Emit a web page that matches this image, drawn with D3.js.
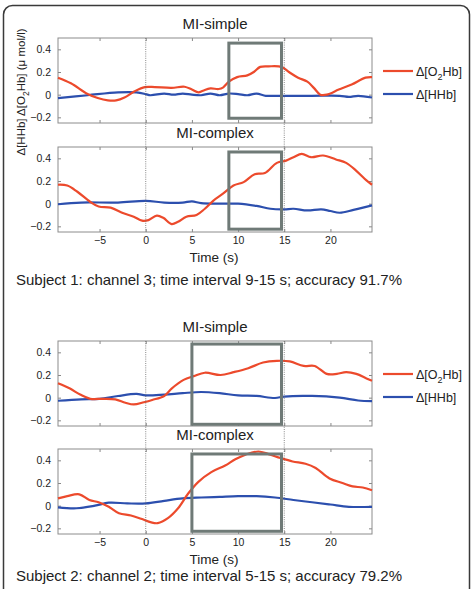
<!DOCTYPE html>
<html>
<head>
<meta charset="utf-8">
<script src="https://cdn.jsdelivr.net/npm/d3@7"></script>
<style>
    body { margin: 0; background: #fff; }
    text { font-family: "Liberation Sans", Arial, sans-serif; fill: #222; }
</style>
</head>
<body>
<div id="chart"></div>
<script>
const timeTicks = [-5, 0, 5, 10, 15, 20];
const valueTicks = [-0.2, 0, 0.2, 0.4];
const legendLabels = ['O2Hb', 'HHb'];

// subject 1, MI-simple (time s, value)
const s1SimpleO2Hb = [[-9.5, 0.15], [-8.1, 0.10], [-6.3, 0.005], [-5.2, -0.03], [-4.1, -0.05], [-3.2, -0.05], [-2.3, -0.025], [-1.2, 0.03], [-0.1, 0.067], [1.0, 0.067], [2.8, 0.06], [4.2, 0.07], [5.0, 0.045], [5.7, 0.02], [6.2, 0.035], [7.0, 0.055], [7.9, 0.05], [8.4, 0.065], [9.0, 0.115], [9.9, 0.155], [11.0, 0.17], [11.7, 0.2], [12.4, 0.245], [13.3, 0.25], [14.7, 0.245], [15.5, 0.2], [16.5, 0.15], [17.5, 0.115], [18.2, 0.06], [18.9, 0.0], [19.6, 0.0], [20.9, 0.045], [22.3, 0.09], [23.8, 0.15], [24.5, 0.155]];
const s1SimpleHHb = [[-9.5, -0.03], [-6.3, -0.005], [-3, 0.02], [-1, 0.02], [0, 0.005], [0.5, -0.005], [2, 0.01], [3, 0], [4, 0.01], [5, 0], [6, -0.005], [7, 0.01], [8, -0.005], [9, 0.01], [10, 0.005], [11, -0.005], [12, 0.01], [13, -0.01], [14, -0.01], [18, -0.01], [21, -0.01], [22, -0.02], [23, -0.01], [24.5, -0.025]];

// subject 1, MI-complex
const s1ComplexO2Hb = [[-9.5, 0.167], [-8.5, 0.16], [-7.4, 0.105], [-6.0, 0.015], [-5.1, -0.025], [-3.8, -0.035], [-2.4, -0.085], [-1.3, -0.115], [-0.4, -0.15], [0.3, -0.145], [1.2, -0.105], [1.9, -0.125], [2.8, -0.18], [3.5, -0.16], [4.4, -0.115], [5.5, -0.1], [6.4, -0.045], [7.3, 0.025], [8.4, 0.09], [9.5, 0.16], [10.6, 0.19], [11.8, 0.26], [12.9, 0.27], [14.2, 0.36], [15.2, 0.38], [16.0, 0.41], [16.9, 0.44], [17.9, 0.41], [19.2, 0.425], [20.6, 0.39], [21.7, 0.36], [22.8, 0.29], [23.9, 0.205], [24.5, 0.167]];
const s1ComplexHHb = [[-9.5, -0.005], [-7, 0.01], [-3, 0.01], [0, 0.025], [2, 0.01], [4, 0.01], [5, 0.02], [6, 0.005], [8, 0], [10, 0], [12, -0.02], [13.5, -0.045], [15, -0.05], [16, -0.045], [17.5, -0.06], [19, -0.05], [20, -0.065], [21, -0.08], [22.5, -0.055], [24.5, -0.015]];

// subject 2, MI-simple
const s2SimpleO2Hb = [[-9.5, 0.127], [-8.2, 0.08], [-7.1, 0.027], [-6.0, -0.01], [-4.6, -0.01], [-3.3, -0.015], [-2.2, -0.045], [-1.3, -0.06], [-0.2, -0.04], [0.7, -0.02], [2.0, 0.015], [2.8, 0.08], [4.1, 0.157], [5.2, 0.19], [6.4, 0.22], [8.1, 0.2], [9.5, 0.225], [11.1, 0.26], [12.7, 0.31], [14.2, 0.325], [15.6, 0.32], [17.1, 0.28], [18.3, 0.28], [19.6, 0.21], [20.7, 0.21], [21.7, 0.225], [22.8, 0.21], [23.9, 0.17], [24.5, 0.15]];
const s2SimpleHHb = [[-9.5, -0.027], [-7, -0.015], [-5, -0.01], [-3, 0.015], [-1, 0.033], [0, 0.02], [2, 0.027], [4, 0.04], [6, 0.05], [8, 0.04], [10, 0.02], [12, 0.015], [14, -0.003], [15, 0.01], [18, 0.015], [21, 0], [23, -0.025], [24.5, -0.03]];

// subject 2, MI-complex
const s2ComplexO2Hb = [[-9.5, 0.064], [-8.5, 0.084], [-7.2, 0.1], [-6.1, 0.05], [-5.1, 0.03], [-4.0, -0.01], [-2.9, -0.067], [-1.6, -0.087], [-0.5, -0.116], [0.6, -0.148], [1.3, -0.154], [2.4, -0.11], [3.5, -0.023], [4.6, 0.107], [5.7, 0.21], [7.1, 0.296], [8.6, 0.354], [9.7, 0.41], [10.8, 0.45], [12.2, 0.478], [13.3, 0.455], [14.6, 0.42], [15.9, 0.39], [17.3, 0.37], [18.4, 0.333], [19.9, 0.24], [21.3, 0.2], [22.4, 0.17], [23.5, 0.16], [24.5, 0.136]];
const s2ComplexHHb = [[-9.5, -0.015], [-7.5, -0.023], [-5.5, 0], [-4, 0.026], [-2, 0.02], [0, 0.02], [2, 0.043], [4, 0.064], [6, 0.072], [8, 0.078], [10, 0.084], [12, 0.084], [14, 0.072], [16, 0.05], [18, 0.03], [20, 0.01], [22, -0.01], [24.5, -0.01]];

// highlighted windows [t0, t1] and box value extents per panel
const s1Window = [9, 14.7];
const s2Window = [5, 14.7];
const boxExtents = [[-0.208, 0.455], [-0.225, 0.456], [-0.235, 0.473], [-0.226, 0.456]];

const captions = [
    'Subject 1: channel 3; time interval 9-15 s; accuracy 91.7%',
    'Subject 2: channel 2; time interval 5-15 s; accuracy 79.2%'
];

const width = 473;
const height = 589;
const red = '#ec4a2c';
const blue = '#2c4fae';

const svg = d3.select('#chart')
    .append('svg')
    .attr('width', width)
    .attr('height', height);

// outer frame, bottom edge runs off the picture
svg.append('rect')
    .attr('x', 3.5)
    .attr('y', 5.5)
    .attr('width', 466)
    .attr('height', 620)
    .attr('rx', 9)
    .attr('fill', 'none')
    .attr('stroke', '#3a3a3a')
    .attr('stroke-width', 1.5);

const xScale = d3.scaleLinear()
    .domain([-9.5, 24.5])
    .range([58, 372]);

const panels = [
    {top: 38, title: 'MI-simple', o2: s1SimpleO2Hb, hh: s1SimpleHHb, win: s1Window, box: boxExtents[0], legend: true, xLabels: false},
    {top: 147, title: 'MI-complex', o2: s1ComplexO2Hb, hh: s1ComplexHHb, win: s1Window, box: boxExtents[1], legend: false, xLabels: true},
    {top: 341, title: 'MI-simple', o2: s2SimpleO2Hb, hh: s2SimpleHHb, win: s2Window, box: boxExtents[2], legend: true, xLabels: false},
    {top: 449, title: 'MI-complex', o2: s2ComplexO2Hb, hh: s2ComplexHHb, win: s2Window, box: boxExtents[3], legend: false, xLabels: true}
];
const panelHeight = 85;

panels.forEach(p => {
    const yScale = d3.scaleLinear()
        .domain([-0.25, 0.5])
        .range([p.top + panelHeight, p.top]);

    const g = svg.append('g');

    g.append('text')
        .attr('x', 215)
        .attr('y', p.top - 9)
        .attr('text-anchor', 'middle')
        .attr('font-size', 15)
        .text(p.title);

    // inward ticks on all sides, MATLAB style
    g.append('g')
        .attr('transform', 'translate(0,' + (p.top + panelHeight) + ')')
        .call(d3.axisBottom(xScale).tickValues(timeTicks).tickSize(-3)
            .tickFormat(p.xLabels ? d3.format('d') : ''))
        .call(a => a.select('.domain').remove())
        .call(a => a.selectAll('line').attr('stroke', '#888'))
        .call(a => a.selectAll('text').attr('font-size', 10.5).attr('dy', '0.9em').attr('fill', '#222').attr('font-family', 'Liberation Sans, Arial'));
    g.append('g')
        .attr('transform', 'translate(0,' + p.top + ')')
        .call(d3.axisTop(xScale).tickValues(timeTicks).tickSize(-3).tickFormat(''))
        .call(a => a.select('.domain').remove())
        .call(a => a.selectAll('line').attr('stroke', '#888'));
    g.append('g')
        .attr('transform', 'translate(58,0)')
        .call(d3.axisLeft(yScale).tickValues(valueTicks).tickSize(-3).tickPadding(7)
            .tickFormat(d => d === 0 ? '0' : d3.format('.1f')(d)))
        .call(a => a.select('.domain').remove())
        .call(a => a.selectAll('line').attr('stroke', '#888'))
        .call(a => a.selectAll('text').attr('font-size', 10.5).attr('fill', '#222').attr('font-family', 'Liberation Sans, Arial'));
    g.append('g')
        .attr('transform', 'translate(372,0)')
        .call(d3.axisRight(yScale).tickValues(valueTicks).tickSize(-3).tickFormat(''))
        .call(a => a.select('.domain').remove())
        .call(a => a.selectAll('line').attr('stroke', '#888'));

    g.append('rect')
        .attr('x', xScale.range()[0])
        .attr('y', p.top)
        .attr('width', xScale.range()[1] - xScale.range()[0])
        .attr('height', panelHeight)
        .attr('fill', 'none')
        .attr('stroke', '#8c8c8c')
        .attr('stroke-width', 1);

    const line = d3.line()
        .x(d => xScale(d[0]))
        .y(d => yScale(d[1]))
        .curve(d3.curveCatmullRom.alpha(0.5));

    g.append('path')
        .datum(p.hh)
        .attr('d', line)
        .attr('fill', 'none')
        .attr('stroke', blue)
        .attr('stroke-width', 2.2);
    g.append('path')
        .datum(p.o2)
        .attr('d', line)
        .attr('fill', 'none')
        .attr('stroke', red)
        .attr('stroke-width', 2.2);

    g.append('rect')
        .attr('x', xScale(p.win[0]))
        .attr('y', yScale(p.box[1]))
        .attr('width', xScale(p.win[1]) - xScale(p.win[0]))
        .attr('height', yScale(p.box[0]) - yScale(p.box[1]))
        .attr('fill', 'none')
        .attr('stroke', '#6f7a77')
        .attr('stroke-width', 3);

    if (p.xLabels) {
        g.append('text')
            .attr('x', 214)
            .attr('y', p.top + panelHeight + 30)
            .attr('text-anchor', 'middle')
            .attr('font-size', 13.5)
            .text('Time (s)');
    }

    if (p.legend) {
        [red, blue].forEach((c, i) => {
            const ly = p.top + 33 + i * 23;
            g.append('line')
                .attr('x1', 383).attr('x2', 413)
                .attr('y1', ly).attr('y2', ly)
                .attr('stroke', c)
                .attr('stroke-width', 2.2);
            const t = g.append('text')
                .attr('x', 416)
                .attr('y', ly + 4.5)
                .attr('font-size', 12.5);
            if (legendLabels[i] === 'O2Hb') {
                t.append('tspan').text('\u0394[O');
                t.append('tspan').attr('font-size', 9).attr('dy', 4).text('2');
                t.append('tspan').attr('dy', -4).text('Hb]');
            } else {
                t.text('\u0394[HHb]');
            }
        });
    }
});

// dotted onset / offset markers running through both panels of each subject
[[panels[0], panels[1]], [panels[2], panels[3]]].forEach(pair => {
    [0, 15].forEach(t => {
        svg.append('line')
            .attr('x1', xScale(t)).attr('x2', xScale(t))
            .attr('y1', pair[0].top)
            .attr('y2', pair[1].top + panelHeight)
            .attr('stroke', '#6a6a6a')
            .attr('stroke-width', 0.8)
            .attr('stroke-dasharray', '1,1.2');
    });
});

// shared y label of subject 1
const ylab = svg.append('text')
    .attr('transform', 'translate(25,92) rotate(-90)')
    .attr('text-anchor', 'middle')
    .attr('font-size', 11.5);
ylab.append('tspan').text('\u0394[HHb]  \u0394[O');
ylab.append('tspan').attr('font-size', 8.5).attr('dy', 4).text('2');
ylab.append('tspan').attr('dy', -4).text('Hb] (\u03bc mol/l)');

captions.forEach((c, i) => {
    svg.append('text')
        .attr('x', 16)
        .attr('y', [285, 581][i])
        .attr('font-size', 15)
        .text(c);
});
</script>
</body>
</html>
